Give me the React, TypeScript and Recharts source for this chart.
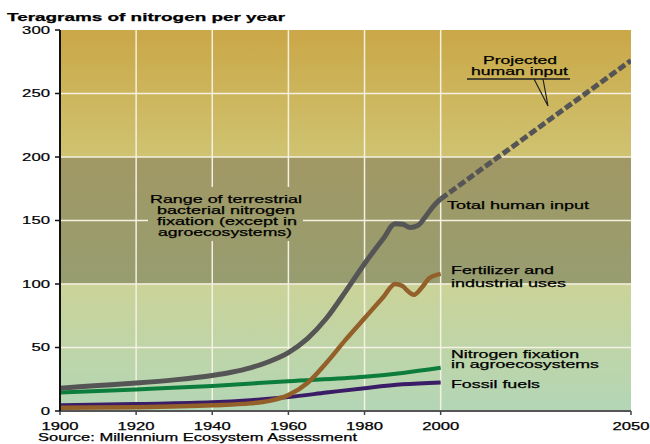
import { ComposedChart, Line, XAxis, YAxis, CartesianGrid } from 'recharts';

// Teragrams of nitrogen per year
const fossilFuels = [
  { year: 1900, value: 4.5 }, { year: 1920, value: 5.5 }, { year: 1940, value: 6.8 },
  { year: 1950, value: 8.5 }, { year: 1960, value: 11 }, { year: 1970, value: 14.5 },
  { year: 1980, value: 18 }, { year: 1990, value: 21 }, { year: 2000, value: 22.5 },
];

const agroFixation = [
  { year: 1900, value: 14.5 }, { year: 1920, value: 17 }, { year: 1940, value: 19.7 },
  { year: 1960, value: 23.5 }, { year: 1980, value: 27 }, { year: 1990, value: 30 },
  { year: 2000, value: 34 },
];

const fertilizer = [
  { year: 1900, value: 2.5 }, { year: 1920, value: 3 }, { year: 1940, value: 4.5 },
  { year: 1950, value: 6 }, { year: 1955, value: 8 }, { year: 1960, value: 12.5 },
  { year: 1965, value: 22 }, { year: 1970, value: 38 }, { year: 1975, value: 56 },
  { year: 1980, value: 73 }, { year: 1985, value: 90 }, { year: 1988, value: 100 },
  { year: 1990, value: 98.5 }, { year: 1991, value: 95.5 }, { year: 1993, value: 91.5 },
  { year: 1995, value: 97 }, { year: 1997, value: 104.5 }, { year: 2000, value: 108 },
];

const totalHuman = [
  { year: 1900, value: 18 }, { year: 1910, value: 20 }, { year: 1920, value: 22 },
  { year: 1930, value: 24.5 }, { year: 1940, value: 28 }, { year: 1945, value: 30.5 },
  { year: 1950, value: 34 }, { year: 1955, value: 39 }, { year: 1960, value: 46 },
  { year: 1965, value: 57 }, { year: 1970, value: 73 }, { year: 1975, value: 94 },
  { year: 1980, value: 116 }, { year: 1985, value: 136 }, { year: 1988, value: 147.5 },
  { year: 1990, value: 147 }, { year: 1992, value: 144.5 }, { year: 1994, value: 146 },
  { year: 1996, value: 153 }, { year: 1998, value: 161 }, { year: 2000, value: 167 },
];

const projected = [
  { year: 2000, value: 167 }, { year: 2050, value: 276 },
];

const xTicks = [1900, 1920, 1940, 1960, 1980, 2000, 2050];
const yTicks = [0, 50, 100, 150, 200, 250, 300];

const FONT = '"Liberation Sans", Arial, sans-serif';

// the reference text is stretched wide, so widths are forced with textLength
function T({ x, y, w, children, bold }: any) {
  return (
    <text x={x} y={y} textLength={w} lengthAdjust="spacingAndGlyphs"
      fontFamily={FONT} fontSize={11} fontWeight={bold ? 'bold' : 'normal'} fill="#000"
      stroke="#000" strokeWidth={0.25}>
      {children}
    </text>
  );
}

const XTick = (props: any) => {
  const { x, y, payload } = props;
  const w = 37;
  return (
    <text x={x - w / 2} y={y + 12.5} textLength={w} lengthAdjust="spacingAndGlyphs"
      fontFamily={FONT} fontSize={11} fill="#000" stroke="#000" strokeWidth={0.25}>{payload.value}</text>
  );
};

const YTick = (props: any) => {
  const { x, y, payload } = props;
  const s = String(payload.value);
  const w = 9.3 * s.length;
  return (
    <text x={x - w} y={y + 3.8} textLength={w} lengthAdjust="spacingAndGlyphs"
      fontFamily={FONT} fontSize={11} fill="#000" stroke="#000" strokeWidth={0.2}>{s}</text>
  );
};

export default function App() {
  return (
    <div style={{ position: 'relative', width: 650, height: 444, background: '#fff' }}>
      <style>{'body{margin:0}'}</style>
      <ComposedChart width={650} height={444} margin={{ top: 30, right: 19, bottom: 0, left: 0 }}>
        <CartesianGrid fill="url(#bands)" stroke="#f4f1e2" strokeWidth={1.5}
          horizontalValues={[50, 100, 150, 200, 250]} verticalValues={[1920, 1940, 1960, 1980, 2000]} />
        <XAxis type="number" dataKey="year" domain={[1900, 2050]} ticks={xTicks} interval={0}
          height={33} tickSize={4} tickMargin={2} stroke="#555" strokeWidth={2}
          tickLine={{ stroke: '#444', strokeWidth: 1.5 }} tick={XTick} allowDataOverflow />
        <YAxis type="number" domain={[0, 300]} ticks={yTicks} interval={0} width={60}
          tickSize={5} tickMargin={5} stroke="#111" strokeWidth={2}
          tickLine={{ stroke: '#111', strokeWidth: 1.5 }} tick={YTick} />
        <Line data={agroFixation} dataKey="value" type="monotone" stroke="#0c7d3c" strokeWidth={4}
          dot={false} isAnimationActive={false} />
        <Line data={fossilFuels} dataKey="value" type="monotone" stroke="#3b1c66" strokeWidth={4}
          dot={false} isAnimationActive={false} />
        <Line data={fertilizer} dataKey="value" type="monotone" stroke="#93602a" strokeWidth={4.5}
          dot={false} isAnimationActive={false} />
        <Line data={totalHuman} dataKey="value" type="monotone" stroke="#555555" strokeWidth={5}
          dot={false} isAnimationActive={false} />
        <Line data={projected} dataKey="value" type="linear" stroke="#555555" strokeWidth={5}
          strokeDasharray="8 3" dot={false} isAnimationActive={false} />
      </ComposedChart>
      <svg width={650} height={444} style={{ position: 'absolute', left: 0, top: 0, pointerEvents: 'none' }}>
        <defs>
          <linearGradient id="bands" gradientUnits="userSpaceOnUse" x1={0} y1={30} x2={0} y2={411}>
            <stop offset={0} stopColor="#caa747" />
            <stop offset={0.333} stopColor="#cfc371" />
            <stop offset={0.3336} stopColor="#a19864" />
            <stop offset={0.665} stopColor="#979d70" />
            <stop offset={0.6664} stopColor="#cbd398" />
            <stop offset={1} stopColor="#b3d6b6" />
          </linearGradient>
        </defs>
        <T x={7} y={20.5} w={278} bold>Teragrams of nitrogen per year</T>

        <rect x={148} y={187} width={155} height={54} fill="url(#bands)" />
        <T x={150} y={203} w={152}>Range of terrestrial</T>
        <T x={157} y={214} w={138}>bacterial nitrogen</T>
        <T x={157} y={224.5} w={140}>fixation (except in</T>
        <T x={158} y={235.5} w={134}>agroecosystems)</T>

        <T x={483} y={63.5} w={74}>Projected</T>
        <T x={471} y={74.5} w={97}>human input</T>
        <line x1={467} y1={79} x2={570} y2={79} stroke="#222" strokeWidth={1.3} />
        <polyline points="534,79 548,106 543,79" fill="none" stroke="#222" strokeWidth={1.2} />

        <T x={447} y={208.5} w={142}>Total human input</T>
        <T x={451} y={274} w={103}>Fertilizer and</T>
        <T x={451} y={287} w={115}>industrial uses</T>
        <T x={451} y={357.5} w={128}>Nitrogen fixation</T>
        <T x={451} y={368} w={148}>in agroecosystems</T>
        <T x={451} y={387.5} w={89}>Fossil fuels</T>

        <T x={38} y={440.5} w={319}>Source: Millennium Ecosystem Assessment</T>
      </svg>
    </div>
  );
}
